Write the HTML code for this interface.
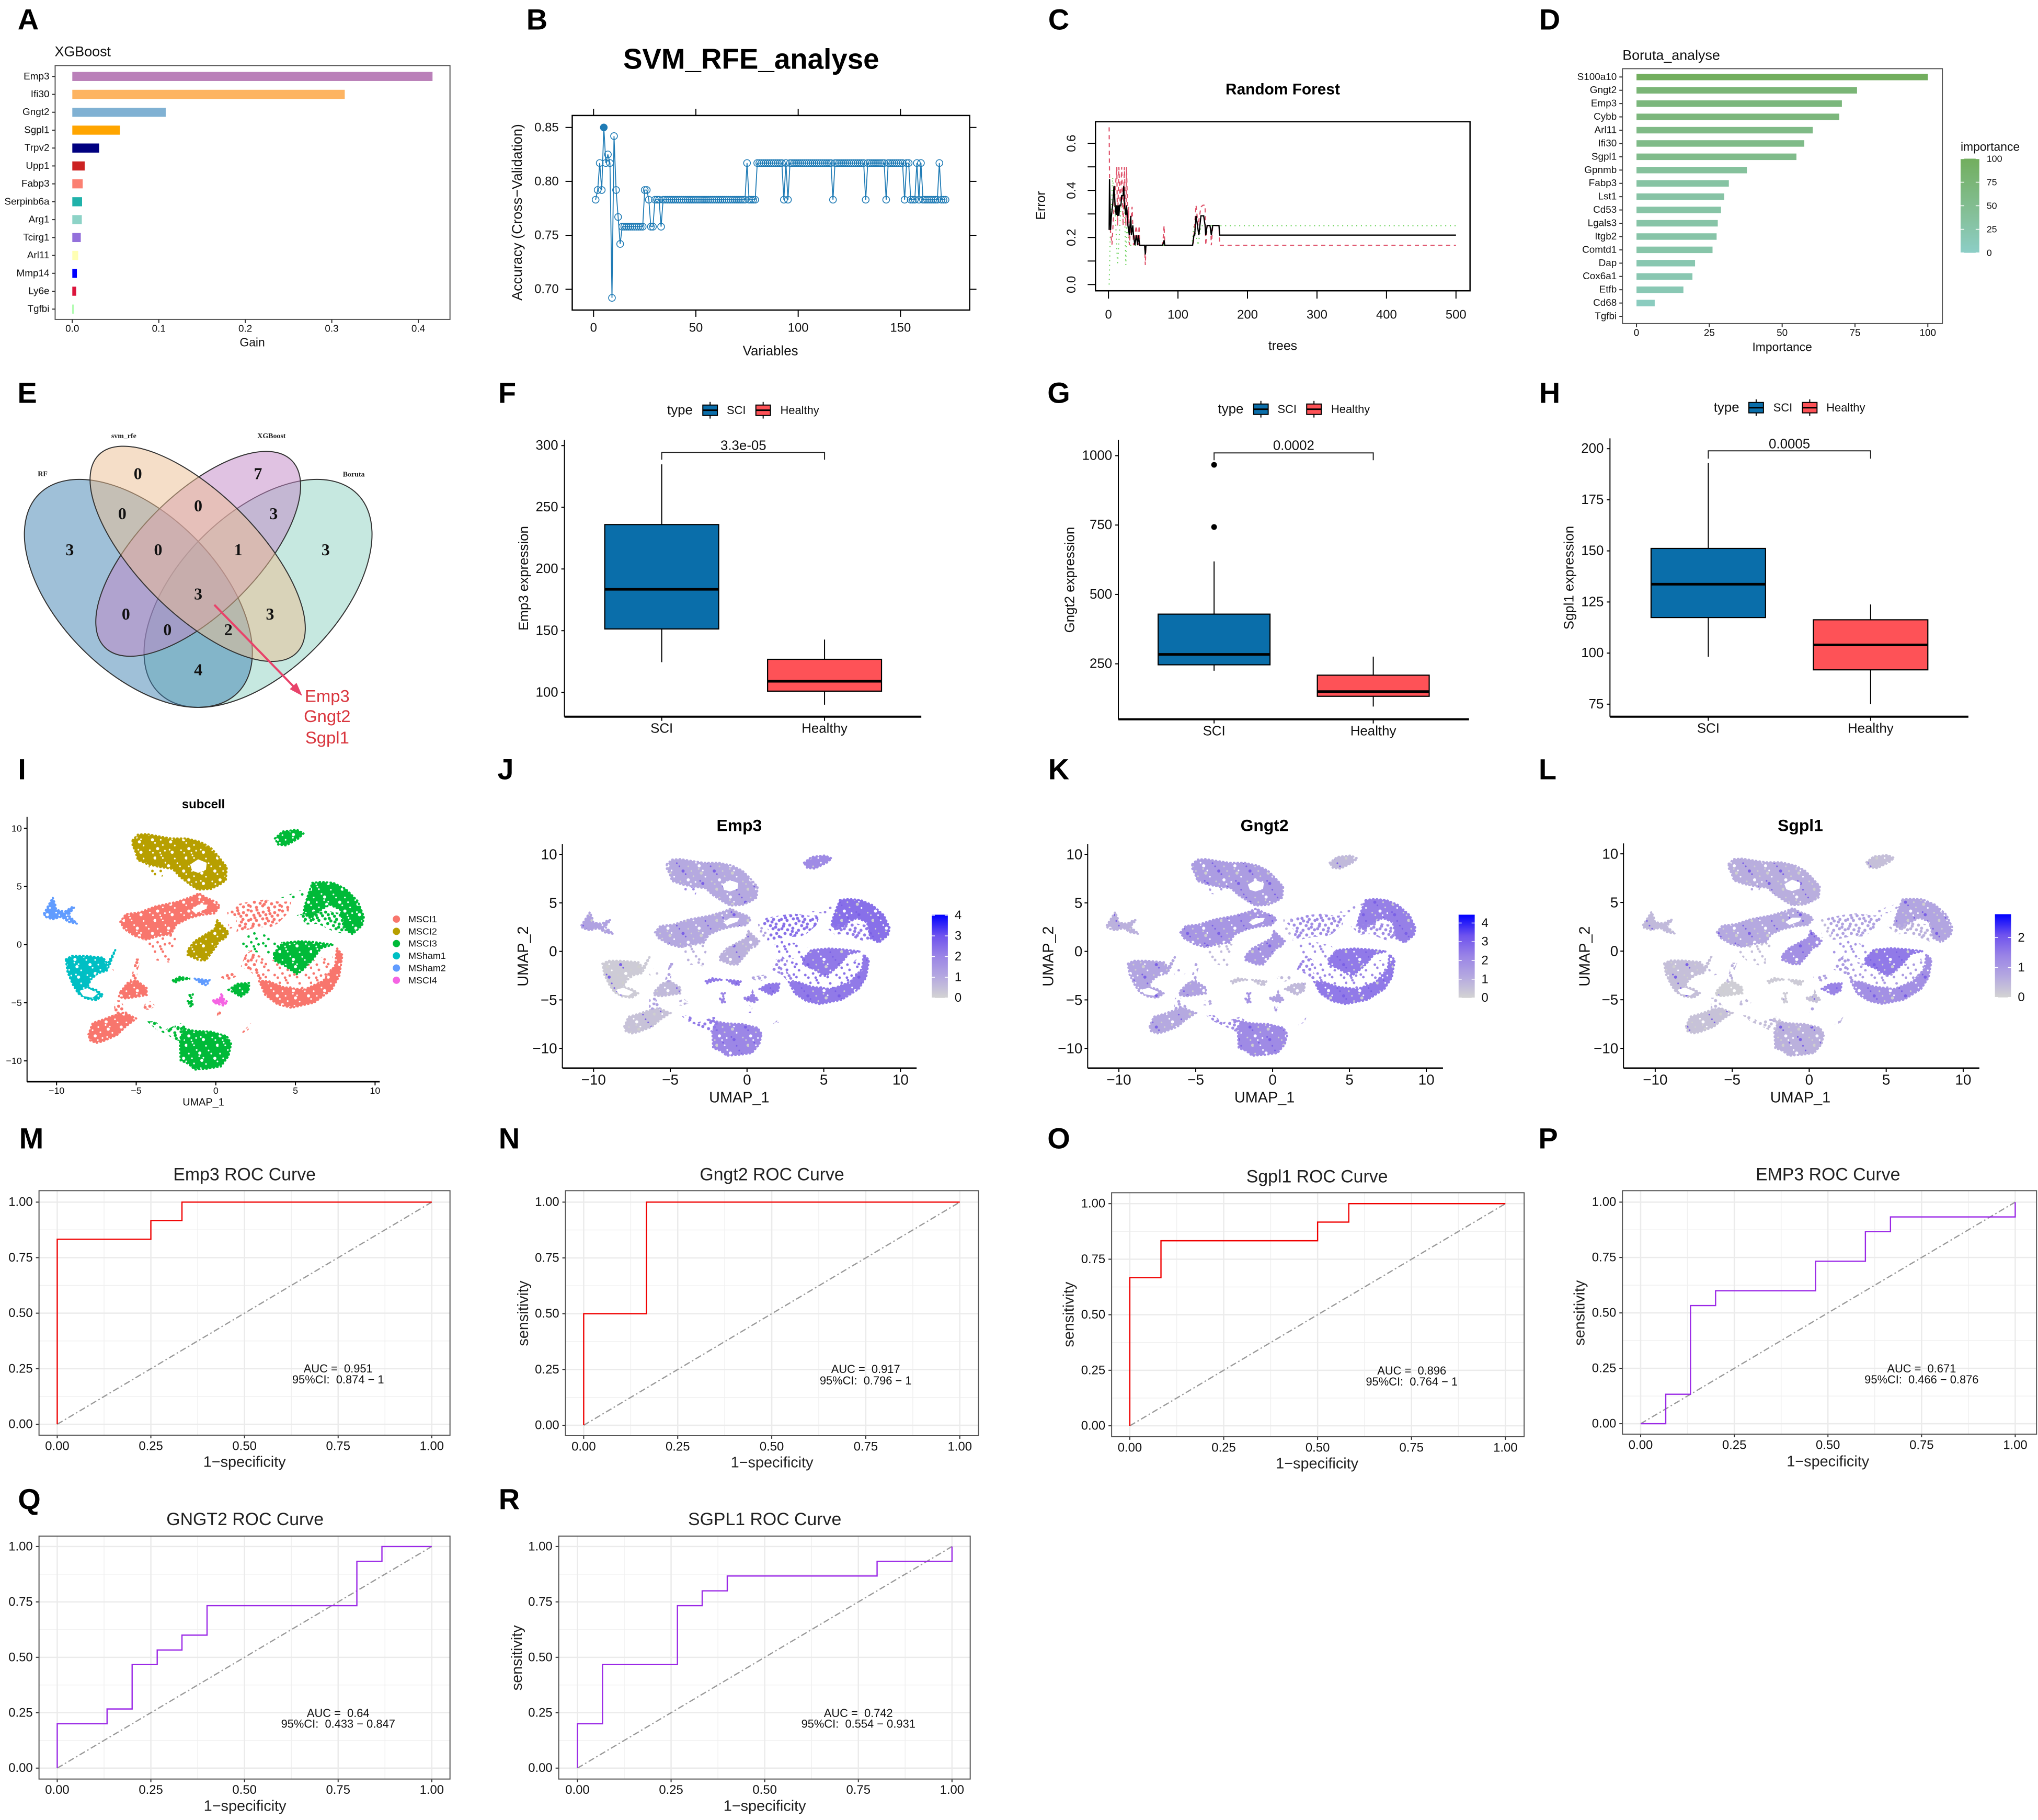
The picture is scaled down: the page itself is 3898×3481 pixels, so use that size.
<!DOCTYPE html>
<html lang="en">
<head>
<meta charset="utf-8">
<title>Machine learning gene selection figure</title>
<style>
html,body{margin:0;padding:0;background:#fff;width:3898px;height:3481px;overflow:hidden}
svg{display:block}
text{font-family:"Liberation Sans",sans-serif;fill:#111;dominant-baseline:central;white-space:pre}
.letter{font-size:56px;font-weight:700;text-anchor:middle;fill:#000}
.mid{text-anchor:middle}
.bold{font-weight:700;fill:#000}
.venn{font-family:"Liberation Serif",serif;font-weight:700;text-anchor:middle;font-size:32px;fill:#111}
.vennlab{font-family:"Liberation Serif",serif;font-weight:700;text-anchor:middle;font-size:14px;fill:#222}
.gene{font-size:33px;text-anchor:middle;fill:#D9363E}
.roct{font-size:34px;text-anchor:middle;fill:#222}
.rocx{font-size:29px;text-anchor:middle;fill:#222}
</style>
</head>
<body>
<svg id="figure" width="3898" height="3481" viewBox="0 0 3898 3481" xmlns="http://www.w3.org/2000/svg">
<defs id="defs"></defs>
<rect x="0" y="0" width="3898" height="3481" fill="#fff"/>

<g>
<text class="letter" x="54" y="37">A</text>
<text class="letter" x="1027" y="37">B</text>
<text class="letter" x="2025" y="37">C</text>
<text class="letter" x="2964" y="37">D</text>
<text class="letter" x="52" y="751">E</text>
<text class="letter" x="970" y="751">F</text>
<text class="letter" x="2025" y="751">G</text>
<text class="letter" x="2964" y="751">H</text>
<text class="letter" x="42" y="1471">I</text>
<text class="letter" x="967" y="1471">J</text>
<text class="letter" x="2025" y="1471">K</text>
<text class="letter" x="2960" y="1471">L</text>
<text class="letter" x="60" y="2177">M</text>
<text class="letter" x="974" y="2177">N</text>
<text class="letter" x="2025" y="2177">O</text>
<text class="letter" x="2961" y="2177">P</text>
<text class="letter" x="56" y="2867">Q</text>
<text class="letter" x="974" y="2867">R</text>
</g>

<g id="panel-a" transform="scale(.995)">
<text x="105" y="99" font-size="27">XGBoost</text>
<text class="mid" x="485" y="658" font-size="23">Gain</text>
</g>

<g id="panel-b" transform="scale(.995)">
<text class="mid bold" x="1444" y="113" font-size="55">SVM_RFE_analyse</text>
<text class="mid" x="1481" y="675" font-size="26">Variables</text>
<text class="mid" x="994" y="408" font-size="27" transform="rotate(-90 994 408)">Accuracy (Cross−Validation)</text>
</g>

<g id="panel-c" transform="translate(9.75 0) scale(.995)">
<text class="mid bold" x="2456" y="172" font-size="30">Random Forest</text>
<text class="mid" x="2456" y="665" font-size="25">trees</text>
<text class="mid" x="1991" y="395" font-size="25" transform="rotate(-90 1991 395)">Error</text>
</g>

<g id="panel-d" transform="translate(9.75 0) scale(.995)">
<text x="3109" y="106" font-size="27">Boruta_analyse</text>
<text class="mid" x="3416" y="667" font-size="23">Importance</text>
<text x="3759" y="282" font-size="23">importance</text>
</g>

<g id="panel-e" transform="translate(0 3.6) scale(.995)">
<ellipse cx="496" cy="1137" rx="270" ry="152" transform="rotate(-45 496 1137)" fill="rgb(141,209,193)" fill-opacity="0.5" stroke="#333" stroke-width="2"/>
<ellipse cx="266" cy="1137" rx="270" ry="152" transform="rotate(45 266 1137)" fill="rgb(63,129,177)" fill-opacity="0.5" stroke="#333" stroke-width="2"/>
<ellipse cx="381" cy="1061" rx="254" ry="114" transform="rotate(-45 381 1061)" fill="rgb(193,133,197)" fill-opacity="0.5" stroke="#333" stroke-width="2"/>
<ellipse cx="380" cy="1061" rx="269" ry="115" transform="rotate(45 380 1061)" fill="rgb(235,189,145)" fill-opacity="0.5" stroke="#333" stroke-width="2"/>
<text class="vennlab" x="82" y="908">RF</text>
<text class="vennlab" x="238" y="835">svm_rfe</text>
<text class="vennlab" x="522" y="835">XGBoost</text>
<text class="vennlab" x="680" y="909">Boruta</text>
<text class="venn" x="134" y="1053">3</text>
<text class="venn" x="265" y="907">0</text>
<text class="venn" x="496" y="907">7</text>
<text class="venn" x="626" y="1053">3</text>
<text class="venn" x="235" y="984">0</text>
<text class="venn" x="381" y="969">0</text>
<text class="venn" x="526" y="984">3</text>
<text class="venn" x="304" y="1053">0</text>
<text class="venn" x="458" y="1053">1</text>
<text class="venn" x="381" y="1138">3</text>
<text class="venn" x="242" y="1177">0</text>
<text class="venn" x="519" y="1177">3</text>
<text class="venn" x="322" y="1207">0</text>
<text class="venn" x="439" y="1207">2</text>
<text class="venn" x="381" y="1284">4</text>
<path d="M412 1159 L576 1328" stroke="#E8436A" stroke-width="4" fill="none"/>
<path d="M581 1334 L557 1321 L570 1309 Z" fill="#E8436A"/>
<text class="gene" x="629" y="1334">Emp3</text>
<text class="gene" x="629" y="1373">Gngt2</text>
<text class="gene" x="629" y="1414">Sgpl1</text>
</g>

<g id="panel-f" transform="translate(0 3.6) scale(.995)">
<text class="mid" x="1007" y="1108" font-size="26" transform="rotate(-90 1007 1108)">Emp3 expression</text>
<text class="mid" x="1429" y="853" font-size="26">3.3e-05</text>
</g>
<g id="panel-g" transform="translate(9.75 3.6) scale(.995)">
<text class="mid" x="2047" y="1111" font-size="26" transform="rotate(-90 2047 1111)">Gngt2 expression</text>
<text class="mid" x="2477" y="853" font-size="26">0.0002</text>
</g>
<g id="panel-h" transform="translate(9.75 3.6) scale(.995)">
<text class="mid" x="3007" y="1107" font-size="26" transform="rotate(-90 3007 1107)">Sgpl1 expression</text>
<text class="mid" x="3430" y="850" font-size="26">0.0005</text>
</g>

<g id="panel-i" transform="translate(0 7.25) scale(.995)">
<text class="mid bold" x="391" y="1539" font-size="24">subcell</text>
<text class="mid" x="391" y="2112" font-size="20">UMAP_1</text>
</g>
<g id="panel-j" transform="translate(0 7.25) scale(.995)">
<text class="mid bold" x="1421" y="1579" font-size="32">Emp3</text>
<text class="mid" x="1421" y="2103" font-size="29">UMAP_1</text>
<text class="mid" x="1006" y="1831" font-size="29" transform="rotate(-90 1006 1831)">UMAP_2</text>
</g>
<g id="panel-k" transform="translate(9.75 7.25) scale(.995)">
<text class="mid bold" x="2421" y="1579" font-size="32">Gngt2</text>
<text class="mid" x="2421" y="2103" font-size="29">UMAP_1</text>
<text class="mid" x="2006" y="1831" font-size="29" transform="rotate(-90 2006 1831)">UMAP_2</text>
</g>
<g id="panel-l" transform="translate(9.75 7.25) scale(.995)">
<text class="mid bold" x="3451" y="1579" font-size="32">Sgpl1</text>
<text class="mid" x="3451" y="2103" font-size="29">UMAP_1</text>
<text class="mid" x="3037" y="1831" font-size="29" transform="rotate(-90 3037 1831)">UMAP_2</text>
</g>

<g id="panel-m" transform="translate(0 10.7) scale(.995)">
<text class="roct" x="470" y="2247">Emp3 ROC Curve</text>
<text class="rocx" x="470" y="2800">1−specificity</text>
</g>
<g id="panel-n" transform="translate(0 10.7) scale(.995)">
<text class="roct" x="1484" y="2247">Gngt2 ROC Curve</text>
<text class="rocx" x="1484" y="2801">1−specificity</text>
<text class="rocx" x="1006" y="2514" transform="rotate(-90 1006 2514)">sensitivity</text>
</g>
<g id="panel-o" transform="translate(9.75 10.7) scale(.995)">
<text class="roct" x="2522" y="2251">Sgpl1 ROC Curve</text>
<text class="rocx" x="2522" y="2803">1−specificity</text>
<text class="rocx" x="2045" y="2516" transform="rotate(-90 2045 2516)">sensitivity</text>
</g>
<g id="panel-p" transform="translate(9.75 10.7) scale(.995)">
<text class="roct" x="3504" y="2247">EMP3 ROC Curve</text>
<text class="rocx" x="3504" y="2799">1−specificity</text>
<text class="rocx" x="3027" y="2513" transform="rotate(-90 3027 2513)">sensitivity</text>
</g>
<g id="panel-q" transform="translate(0 10.7) scale(.995)">
<text class="roct" x="471" y="2910">GNGT2 ROC Curve</text>
<text class="rocx" x="471" y="3461">1−specificity</text>
</g>
<g id="panel-r" transform="translate(0 10.7) scale(.995)">
<text class="roct" x="1470" y="2910">SGPL1 ROC Curve</text>
<text class="rocx" x="1470" y="3461">1−specificity</text>
<text class="rocx" x="994" y="3176" transform="rotate(-90 994 3176)">sensitivity</text>
</g>
</svg>

<script>
/* ---------- Panel A data ---------- */
const xgbGenes = ['Emp3','Ifi30','Gngt2','Sgpl1','Trpv2','Upp1','Fabp3','Serpinb6a','Arg1','Tcirg1','Arl11','Mmp14','Ly6e','Tgfbi'];
const xgbGain = [0.4165,0.315,0.108,0.055,0.031,0.0143,0.012,0.0113,0.011,0.0098,0.0068,0.0053,0.0045,0.0015];
const xgbColors = ['#BA80B9','#FDB462','#80B1D3','#FFA500','#000080','#CC2222','#FB8072','#20B2AA','#8DD3C7','#9370DB','#FFFFB3','#0000FF','#DC143C','#98FB98'];
const xgbTicks = [0,0.1,0.2,0.3,0.4];
const xgbTickLabels = ['0.0','0.1','0.2','0.3','0.4'];

/* ---------- Panel B data ---------- */
const svmAccuracy = [
0.783,0.792,0.817,0.792,0.85,0.817,0.825,0.817,0.692,0.842,0.792,0.767,0.742,
0.758,0.758,0.758,0.758,0.758,0.758,0.758,0.758,0.758,0.758,0.758,
0.792,0.792,0.783,0.758,0.758,0.783,0.783,0.783,0.758,
0.783,0.783,0.783,0.783,0.783,0.783,0.783,0.783,0.783,0.783,
0.783,0.783,0.783,0.783,0.783,0.783,0.783,0.783,0.783,0.783,
0.783,0.783,0.783,0.783,0.783,0.783,0.783,0.783,0.783,0.783,
0.783,0.783,0.783,0.783,0.783,0.783,0.783,0.783,0.783,0.783,0.783,
0.817,0.783,0.783,0.783,0.783,
0.817,0.817,0.817,0.817,0.817,0.817,0.817,0.817,0.817,0.817,0.817,0.817,0.817,
0.783,0.817,0.783,
0.817,0.817,0.817,0.817,0.817,0.817,0.817,0.817,0.817,0.817,0.817,
0.817,0.817,0.817,0.817,0.817,0.817,0.817,0.817,0.817,0.817,
0.783,
0.817,0.817,0.817,0.817,0.817,0.817,0.817,0.817,0.817,0.817,0.817,0.817,0.817,0.817,0.817,
0.783,
0.817,0.817,0.817,0.817,0.817,0.817,0.817,0.817,0.817,
0.783,
0.817,0.817,0.817,0.817,0.817,0.817,0.817,0.817,
0.783,0.817,0.817,0.783,0.783,0.783,0.817,0.783,0.817,
0.783,0.783,0.783,0.783,0.783,0.783,0.783,0.783,
0.817,0.783,0.783,0.783];
const svmBestIndex = 4;
const svmXTicks = [0,50,100,150];
const svmYTicks = [0.70,0.75,0.80,0.85];
const svmYTickLabels = ['0.70','0.75','0.80','0.85'];

/* ---------- Panel C data ---------- */
const rfOobTrees = [1,1.5,3,4,6,8,9.5,11,12,13,14,15,16,18,19,21,22,23,25,26,28,30,32,33,35,36,38,40,42,43,45,52,53,54,78,80,81,121,123,124,126,128,130,133,137,139,140,142,146,148,150,159,160,500];
const rfOobError = [0.232,0.448,0.232,0.285,0.337,0.419,0.337,0.296,0.337,0.292,0.337,0.292,0.337,0.337,0.378,0.378,0.419,0.337,0.296,0.337,0.251,0.21,0.292,0.21,0.251,0.21,0.167,0.21,0.167,0.21,0.167,0.167,0.128,0.167,0.167,0.188,0.167,0.167,0.21,0.21,0.292,0.251,0.21,0.292,0.292,0.251,0.21,0.251,0.251,0.21,0.251,0.251,0.21,0.21];
const rfClassATrees = [1,2,5,8,12,13,15,17,19,21,23,25,26,28,29,30,34,36,40,43,44,45,52,53,54,78,80,81,122,126,129,133,136,139,140,142,147,148,150,159,160,500];
const rfClassAError = [0.668,0.25,0.17,0.33,0.5,0.25,0.5,0.33,0.5,0.25,0.5,0.25,0.5,0.25,0.33,0.167,0.33,0.167,0.25,0.167,0.25,0.167,0.167,0.083,0.167,0.167,0.25,0.167,0.167,0.337,0.25,0.33,0.337,0.337,0.167,0.25,0.25,0.167,0.25,0.25,0.167,0.167];
const rfClassBTrees = [1,2.5,6,10,13,18,23,25,26,30,120,123,129,133,500];
const rfClassBError = [0,0.195,0.455,0.285,0.083,0.33,0.33,0.083,0.25,0.167,0.167,0.25,0.167,0.25,0.25];
const rfXTicks = [0,100,200,300,400,500];
const rfYTicks = [0,0.1,0.2,0.3,0.4,0.5,0.6];
const rfYLabelled = [0,0.2,0.4,0.6];

/* ---------- Panel D data ---------- */
const borutaGenes = ['S100a10','Gngt2','Emp3','Cybb','Arl11','Ifi30','Sgpl1','Gpnmb','Fabp3','Lst1','Cd53','Lgals3','Itgb2','Comtd1','Dap','Cox6a1','Etfb','Cd68','Tgfbi'];
const borutaImportance = [100,75.7,70.5,69.6,60.5,57.6,54.9,37.9,31.7,30.1,29,27.9,27.5,26.1,20.1,19.2,16.1,6.25,0];
const borutaTicks = [0,25,50,75,100];

/* ---------- Panels F, G, H data (low whisker, q1, median, q3, high whisker) ---------- */
const boxGroups = ['SCI','Healthy'];
const emp3SciStats = [124.5,151.4,183.5,236,284.8];
const emp3HealthyStats = [90,101,109,126.8,142.8];
const emp3Ticks = [100,150,200,250,300];
const gngt2SciStats = [225,246.5,284,429,619];
const gngt2HealthyStats = [96,133,150,209,276];
const gngt2SciOutliers = [967,743];
const gngt2Ticks = [250,500,750,1000];
const sgpl1SciStats = [98.2,117.4,133.7,151.2,193];
const sgpl1HealthyStats = [75,91.8,104,116.3,123.8];
const sgpl1Ticks = [75,100,125,150,175,200];

/* ---------- Panels I-L data: regions of the embedding in UMAP units ---------- */
const umapRegionNames = ['top','lower-olive','left-center','left-tail','mid-right','green-right','triangle','mid-scatter','ring-base','ring-left','ring-interior','teal','blue','small-top','left-lower','left-mid','bottom','bottom-tail','green-small','strip-1','stem','small-patch','strip-3','strip-4','patch-teal','patch-mid','arc','blue-small','pink','sliver-1','sliver-2','mid-column','green-under','green-link','top-under'];
const umapPolys = [
[[-5.23,8.98],[-4.89,9.46],[-4.34,9.51],[-3.57,9.31],[-2.81,9.13],[-1.83,9.13],[-0.95,8.83],[-0.3,8.31],[0.14,7.63],[0.69,6.66],[0.63,5.54],[0.25,5.16],[-0.3,4.79],[-1.11,4.72],[-1.61,5.16],[-2.26,5.84],[-2.7,6.51],[-3.46,6.66],[-4.23,6.89],[-4.89,7.26],[-5.05,8.01],[-5.23,8.53]],
[[0.09,2.1],[0.8,1.05],[0.58,0.52],[0.2,0.3],[0.03,-0.15],[-0.3,-0.75],[-0.62,-1.35],[-1.06,-1.35],[-1.77,-0.9],[-1.77,-0.45],[-1.33,0.3],[-0.62,0.9],[-0.08,1.35]],
[[-6,1.95],[-5.65,2.62],[-4.78,2.77],[-3.79,3.29],[-2.48,3.67],[-1.5,4.12],[-1.06,4.42],[-0.62,4.04],[0.03,3.67],[0.25,3.29],[-0.08,2.69],[-0.95,2.54],[-1.72,2.25],[-2.48,1.72],[-2.81,0.9],[-3.57,0.75],[-4.34,0.42],[-5.1,0.75],[-5.76,1.35]],
[[-4.78,0.37],[-2.81,0.9],[-2.48,0.6],[-2.81,-0.75],[-2.81,-1.57],[-3.79,-1.35],[-4.34,-0.6]],
[[0.87,2.99],[1.24,3.44],[2.23,3.74],[3.1,3.89],[4.09,3.67],[4.75,3.74],[4.53,2.69],[3.87,1.8],[3.43,1.5],[2.67,1.5],[1.79,1.2],[1.29,1.12],[1.46,2.1]],
[[6.06,5.31],[6.61,5.39],[7.38,5.31],[8.15,4.79],[8.91,3.74],[9.3,2.4],[9.19,1.65],[8.59,0.9],[8.04,1.35],[7.82,2.99],[7.16,3.44],[6.61,2.99],[5.95,2.25],[5.51,2.69],[5.57,3.29],[5.84,4.49]],
[[3.65,-0.75],[4.2,0.15],[5.3,0.3],[6.17,0.22],[7.38,0],[6.61,-0.3],[6.06,-1.35],[5.41,-2.25],[5.08,-2.54],[4.31,-1.8],[3.65,-1.35]],
[[1.46,0.3],[2.23,1.2],[3.76,0.6],[4.2,0.15],[3.65,-0.9],[2.99,-0.75],[2.23,-0.6],[1.57,-0.3]],
[[2.72,-3.14],[3.1,-4.34],[3.87,-5.13],[4.75,-5.43],[6.17,-4.99],[7.27,-3.89],[7.76,-2.69],[7.95,-0.9],[7.6,-0.3],[7.49,-1.8],[6.72,-3.14],[5.52,-3.89],[4.2,-3.64],[3.32,-3.14]],
[[1.84,-0.9],[2.23,-0.45],[2.66,-0.9],[2.55,-1.95],[3.21,-3.29],[2.72,-3.14],[2.23,-2.4],[1.57,-1.87]],
[[2.66,-0.9],[3.65,-1.35],[5.08,-2.54],[6.17,-1.35],[7.27,-0.75],[7.49,-1.8],[6.72,-3.14],[5.52,-3.89],[4.2,-3.64],[3.21,-3.29],[2.55,-1.95]],
[[-9.42,-1.27],[-9.04,-0.97],[-8.16,-0.97],[-7.07,-1.12],[-6.74,-1.8],[-6.74,-1.5],[-6.31,-0.45],[-6.64,-1.65],[-6.85,-2.25],[-7.4,-2.47],[-7.84,-2.99],[-8.06,-3.66],[-7.51,-3.89],[-7.07,-4.34],[-7.51,-4.79],[-8.16,-4.64],[-8.66,-4.19],[-8.98,-3.44],[-9.31,-2.38]],
[[-10.79,2.69],[-10.24,4.04],[-10.08,3.44],[-10.02,2.99],[-9.48,2.84],[-9.04,3.22],[-8.88,3.22],[-9.26,2.54],[-8.71,1.8],[-9.26,1.95],[-9.69,2.4],[-10.24,2.17],[-10.73,2.4]],
[[3.71,9.13],[4.2,9.73],[5.08,9.88],[5.52,9.58],[5.19,9.13],[4.42,8.53],[3.92,8.6]],
[[-8,-7.72],[-7.73,-6.74],[-7.07,-6.44],[-6.52,-6.14],[-5.76,-5.84],[-4.99,-6.36],[-5.65,-7.04],[-6.2,-7.78],[-7.07,-8.31],[-7.51,-8.46],[-7.91,-8.23]],
[[-5.98,-4.04],[-5.54,-3.29],[-4.99,-3.07],[-4.34,-3.74],[-4.34,-4.34],[-4.99,-4.49],[-5.65,-4.64],[-6.09,-4.49]],
[[-2.26,-8.38],[-2.04,-7.34],[-2.59,-7.04],[-1.39,-7.41],[-0.3,-7.49],[0.69,-7.87],[0.96,-8.53],[0.8,-9.58],[0.31,-10.48],[-0.51,-10.66],[-1.33,-10.75],[-1.72,-10.25],[-2.21,-9.96]],
[[-4.34,-6.59],[-3.79,-6.59],[-3.25,-7.34],[-2.15,-6.74],[-1.83,-7.04],[-2.04,-8.38],[-2.48,-8.23],[-3.14,-7.71],[-3.79,-7.26]],
[[0.8,-3.89],[1.34,-3.37],[2.11,-3.29],[2.05,-4.04],[1.56,-4.49],[1.13,-4.12]],
[[-5.05,-1.2],[-4.67,-1.2],[-4.89,-2.1],[-4.99,-3.14],[-5.43,-3.29],[-5.21,-2.25]],
[[-6.36,-4.79],[-5.98,-4.79],[-5.54,-5.84],[-6.41,-6.06]],
[[-4.45,-5.09],[-4.12,-4.87],[-3.74,-5.31],[-4.23,-5.61],[-4.61,-5.54]],
[[0.14,-5.54],[0.36,-5.76],[0.25,-6.36],[0.03,-6.29]],
[[1.67,-7.49],[2.22,-6.74],[2.05,-7.34],[1.67,-7.63]],
[[-6.63,-1.8],[-6.2,-1.65],[-5.65,-2.32],[-6.31,-2.54]],
[[0.25,-2.62],[1.13,-2.4],[1.34,-2.69],[0.8,-3.14],[0.31,-2.84]],
[[-2.7,-3.07],[-2.26,-2.77],[-1.61,-2.92],[-2.26,-3.07],[-2.59,-3.29]],
[[-1.33,-2.92],[-0.4,-3.07],[-0.57,-3.52],[-0.9,-3.37]],
[[-0.16,-4.79],[0.25,-4.64],[0.36,-4.19],[0.47,-4.64],[0.74,-4.94],[0.47,-5.24],[-0.13,-5.01]],
[[-1.77,-4.87],[-1.5,-4.87],[-1.44,-5.24],[-1.61,-5.31]],
[[-1.66,-4.34],[-1.44,-4.27],[-1.55,-4.64]],
[[0.69,3.29],[1.24,3.29],[1.34,1.5],[0.8,1.35]],
[[5.08,2.54],[6.61,2.99],[7.93,2.69],[8.04,0.9],[7.27,1.2],[6.39,1.8],[5.73,1.72]],
[[4.09,4.04],[5.95,5.01],[5.84,4.49],[5.08,3.89]],
[[-4.23,6.74],[-3.14,6.59],[-3.36,5.84],[-4.01,5.91]]
];
const umapRegionDensity = ['dense','dense','dense','sparse','medium','dense','dense','sparse','dense','medium','sparse','dense','dense','dense','dense','dense','dense','medium','dense','medium','medium','medium','medium','medium','sparse','medium','dense','dense','dense','dense','dense','sparse','medium','sparse','sparse'];
const subcellClusterOfRegion = [1,1,0,0,0,2,2,2,0,0,0,3,4,2,0,0,2,2,2,0,0,0,0,0,0,0,2,4,5,2,2,0,2,2,1];
const umapHoles = [
[[-1.61,6.89],[-1.11,7.34],[-0.57,7.04],[-0.62,6.44],[-1.11,6.17],[-1.49,6.36]],
[[-1.55,2.99],[-1.11,3.44],[-0.51,3.44],[-0.62,3.07],[-1.28,2.69]],
[[-8.55,-3.97],[-8.06,-3.74],[-7.4,-4.19],[-7.73,-4.57],[-8.33,-4.42]]
];
const subcellNames = ['MSCI1','MSCI2','MSCI3','MSham1','MSham2','MSCI4'];
const subcellColors = ['#F8766D','#B79F00','#00BA38','#00BFC4','#619CFF','#F564E3'];
const emp3Levels = [0.25,0.2,0.25,0.2,0.6,0.6,0.55,0.6,0.55,0.5,0.6,0.05,0.3,0.45,0.1,0.15,0.48,0.55,0.55,0.3,0.3,0.2,0.5,0.35,0.1,0.3,0.55,0.55,0.5,0.5,0.5,0.3,0.55,0.5,0.45];
const gngt2Levels = [0.33,0.38,0.38,0.15,0.45,0.52,0.55,0.45,0.55,0.5,0.5,0.28,0.2,0.15,0.25,0.3,0.45,0.45,0.15,0.3,0.3,0.25,0.35,0.4,0.3,0.15,0.1,0.1,0.3,0.4,0.4,0.2,0.45,0.4,0.35];
const sgpl1Levels = [0.22,0.42,0.25,0.12,0.3,0.28,0.55,0.4,0.42,0.35,0.35,0.12,0.15,0.12,0.1,0.03,0.2,0.12,0.5,0.2,0.15,0.15,0.3,0.2,0.2,0.3,0.05,0.05,0.1,0.05,0.05,0.15,0.2,0.3,0.25];
const umapTicks = [-10,-5,0,5,10];
const emp3BarTicks = [0,1,2,3,4];
const gngt2BarTicks = [0,1,2,3,4];
const sgpl1BarTicks = [0,1,2];

/* ---------- Panels M-R data ---------- */
const rocTicks = [0,0.25,0.5,0.75,1];
const rocTickLabels = ['0.00','0.25','0.50','0.75','1.00'];
const rocMinor = [0.125,0.375,0.625,0.875];
const rocEmp3X = [0,0,0.25,0.25,0.333,0.333,1];
const rocEmp3Y = [0,0.833,0.833,0.917,0.917,1,1];
const rocGngt2X = [0,0,0.167,0.167,1];
const rocGngt2Y = [0,0.5,0.5,1,1];
const rocSgpl1X = [0,0,0.083,0.083,0.5,0.5,0.583,0.583,1];
const rocSgpl1Y = [0,0.667,0.667,0.833,0.833,0.917,0.917,1,1];
const rocEMP3X = [0,0.067,0.067,0.133,0.133,0.2,0.2,0.467,0.467,0.6,0.6,0.667,0.667,1,1];
const rocEMP3Y = [0,0,0.133,0.133,0.533,0.533,0.6,0.6,0.733,0.733,0.867,0.867,0.933,0.933,1];
const rocGNGT2X = [0,0,0.133,0.133,0.2,0.2,0.267,0.267,0.333,0.333,0.4,0.4,0.8,0.8,0.867,0.867,1];
const rocGNGT2Y = [0,0.2,0.2,0.267,0.267,0.467,0.467,0.533,0.533,0.6,0.6,0.733,0.733,0.933,0.933,1,1];
const rocSGPL1X = [0,0,0.067,0.067,0.267,0.267,0.333,0.333,0.4,0.4,0.8,0.8,1,1];
const rocSGPL1Y = [0,0.2,0.2,0.467,0.467,0.733,0.733,0.8,0.8,0.867,0.867,0.933,0.933,1];
const aucLinesEmp3 = ['AUC =  0.951','95%CI:  0.874 − 1'];
const aucLinesGngt2 = ['AUC =  0.917','95%CI:  0.796 − 1'];
const aucLinesSgpl1 = ['AUC =  0.896','95%CI:  0.764 − 1'];
const aucLinesEMP3 = ['AUC =  0.671','95%CI:  0.466 − 0.876'];
const aucLinesGNGT2 = ['AUC =  0.64','95%CI:  0.433 − 0.847'];
const aucLinesSGPL1 = ['AUC =  0.742','95%CI:  0.554 − 0.931'];

/* ---------- helpers ---------- */
const NS = 'http://www.w3.org/2000/svg';
function mk(parent, tag, attrs, name) {
  const el = document.createElementNS(NS, tag);
  for (const k in attrs) el.setAttribute(k, attrs[k]);
  
  
  parent.appendChild(el);
  return el;
}
function tx(parent, x, y, str, size, anchor, name, rot) {
  const attrs = {x: x, y: y, 'font-size': size, 'text-anchor': anchor};
  if (rot) attrs.transform = 'rotate(' + rot + ' ' + x + ' ' + y + ')';
  const el = mk(parent, 'text', attrs, name);
  el.textContent = str;
  return el;
}
function line(parent, x1, y1, x2, y2, stroke, w, name, extra) {
  const attrs = {x1: x1, y1: y1, x2: x2, y2: y2, stroke: stroke, 'stroke-width': w};
  if (extra) for (const k in extra) attrs[k] = extra[k];
  return mk(parent, 'line', attrs, name);
}
function rectOf(parent, x, y, w, h, fill, name, extra) {
  const attrs = {x: x, y: y, width: w, height: h, fill: fill};
  if (extra) for (const k in extra) attrs[k] = extra[k];
  return mk(parent, 'rect', attrs, name);
}
function scale(d0, d1, r0, r1) { return v => r0 + (v - d0) * (r1 - r0) / (d1 - d0); }
function polyPoints(xs, ys, sx, sy) { return xs.map((x, i) => sx(x).toFixed(1) + ',' + sy(ys[i]).toFixed(1)).join(' '); }
function minus(v) { return String(v).replace('-', '−'); }
const defs = document.getElementById('defs');

/* ---------- Panel A ---------- */
(function () {
  const g = document.getElementById('panel-a');
  const L = 106, R = 865, T = 126, B = 614;
  const x = scale(0, 0.4, 139, 804);
  const y = i => 147 + 34.4 * i;
  rectOf(g, L, T, R - L, B - T, 'none', 'xgboost-plot-frame', {stroke: '#555', 'stroke-width': 2});
  xgbGenes.forEach((gene, i) => {
    rectOf(g, x(0), y(i) - 8.75, x(xgbGain[i]) - x(0), 17.5, xgbColors[i], 'bar-' + gene);
    line(g, L - 6, y(i), L, y(i), '#333', 2, 'y-tick');
    tx(g, 95, y(i), gene, 19, 'end', 'y-tick-label');
  });
  xgbTicks.forEach((t, i) => {
    line(g, x(t), B, x(t), B + 7, '#333', 2, 'x-tick');
    tx(g, x(t), 632, xgbTickLabels[i], 19, 'middle', 'x-tick-label');
  });
})();

/* ---------- Panel B ---------- */
(function () {
  const g = document.getElementById('panel-b');
  const L = 1100, R = 1864, T = 222, B = 596;
  const x = scale(0, 150, 1141, 1731);
  const y = scale(0.70, 0.85, 556, 245);
  const blue = '#1F7BB5';
  rectOf(g, L, T, R - L, B - T, 'none', 'svm-rfe-plot-frame', {stroke: '#000', 'stroke-width': 2.5});
  svmXTicks.forEach(t => {
    line(g, x(t), T - 13, x(t), T, '#000', 2, 'top-tick');
    line(g, x(t), B, x(t), B + 13, '#000', 2, 'x-tick');
    tx(g, x(t), 630, String(t), 24, 'middle', 'x-tick-label');
  });
  svmYTicks.forEach((t, i) => {
    line(g, L - 13, y(t), L, y(t), '#000', 2, 'y-tick');
    line(g, R, y(t), R + 13, y(t), '#000', 2, 'right-tick');
    tx(g, 1074, y(t), svmYTickLabels[i], 24, 'end', 'y-tick-label');
  });
  const idx = svmAccuracy.map((_, i) => i + 1);
  mk(g, 'polyline', {points: polyPoints(idx, svmAccuracy, x, y), fill: 'none', stroke: blue, 'stroke-width': 1.8}, 'accuracy-line');
  svmAccuracy.forEach((v, i) => {
    mk(g, 'circle', {cx: x(i + 1), cy: y(v), r: 6.5, fill: i === svmBestIndex ? blue : 'none', stroke: blue, 'stroke-width': 1.6}, 'accuracy-point');
  });
})();

/* ---------- Panel C ---------- */
(function () {
  const g = document.getElementById('panel-c');
  const L = 2096, R = 2816, T = 234, B = 559;
  const x = scale(0, 500, 2121, 2789);
  const y = scale(0, 0.6, 547, 275.5);
  rectOf(g, L, T, R - L, B - T, 'none', 'random-forest-plot-frame', {stroke: '#000', 'stroke-width': 2.5});
  rfXTicks.forEach(t => {
    line(g, x(t), B, x(t), B + 15, '#000', 2, 'x-tick');
    tx(g, x(t), 605, String(t), 24, 'middle', 'x-tick-label');
  });
  rfYTicks.forEach(t => line(g, L - 15, y(t), L, y(t), '#000', 2, 'y-tick'));
  rfYLabelled.forEach(t => tx(g, 2050, y(t), t.toFixed(1), 24, 'middle', 'y-tick-label', -90));
  mk(g, 'polyline', {points: polyPoints(rfClassBTrees, rfClassBError, x, y), fill: 'none', stroke: '#61D04F', 'stroke-width': 2, 'stroke-dasharray': '2 7'}, 'class-b-error-line');
  mk(g, 'polyline', {points: polyPoints(rfClassATrees, rfClassAError, x, y), fill: 'none', stroke: '#DF536B', 'stroke-width': 2.2, 'stroke-dasharray': '8 7'}, 'class-a-error-line');
  mk(g, 'polyline', {points: polyPoints(rfOobTrees, rfOobError, x, y), fill: 'none', stroke: '#000', 'stroke-width': 2.4}, 'oob-error-line');
})();

/* ---------- Panel D ---------- */
(function () {
  const g = document.getElementById('panel-d');
  const L = 3109, R = 3724, T = 132, B = 622;
  const x = scale(0, 100, 3136, 3696);
  const y = i => 148 + 25.56 * i;
  const lo = [140, 206, 198], mid = [133, 192, 154], hi = [114, 174, 94];
  function col(v) {
    const t = v / 100;
    const a = t < 0.4 ? lo : mid, b = t < 0.4 ? mid : hi, f = t < 0.4 ? t / 0.4 : (t - 0.4) / 0.6;
    return 'rgb(' + a.map((c, i) => Math.round(c + (b[i] - c) * f)).join(',') + ')';
  }
  rectOf(g, L, T, R - L, B - T, 'none', 'boruta-plot-frame', {stroke: '#555', 'stroke-width': 2});
  borutaGenes.forEach((gene, i) => {
    rectOf(g, x(0), y(i) - 6.25, x(borutaImportance[i]) - x(0), 12.5, col(borutaImportance[i]), 'bar-' + gene);
    line(g, L - 6, y(i), L, y(i), '#333', 2, 'y-tick');
    tx(g, 3098, y(i), gene, 19, 'end', 'y-tick-label');
  });
  borutaTicks.forEach(t => {
    line(g, x(t), B, x(t), B + 7, '#333', 2, 'x-tick');
    tx(g, x(t), 640, String(t), 19, 'middle', 'x-tick-label');
  });
  const grad = mk(defs, 'linearGradient', {id: 'boruta-grad', x1: 0, y1: 1, x2: 0, y2: 0}, 'boruta-gradient');
  [0, 40, 100].forEach(v => mk(grad, 'stop', {offset: v + '%', 'stop-color': col(v)}, 'gradient-stop'));
  rectOf(g, 3759, 305, 36, 181, 'url(#boruta-grad)', 'boruta-colorbar');
  const ly = scale(0, 100, 486, 305);
  borutaTicks.forEach(t => {
    line(g, 3759, ly(t), 3766, ly(t), '#fff', 1.5, 'colorbar-tick');
    line(g, 3788, ly(t), 3795, ly(t), '#fff', 1.5, 'colorbar-tick');
    tx(g, 3809, ly(t), String(t), 18, 'start', 'colorbar-label');
  });
})();

/* ---------- Panels F, G, H ---------- */
function boxPanel(id, c) {
  const g = document.getElementById(id);
  const y = scale(c.d0, c.d1, c.p0, c.p1);
  const fills = ['#0A6EAA', '#FE5257'];
  line(g, c.left, c.top, c.left, c.bottom, '#000', 2, 'y-axis-line');
  line(g, c.left, c.bottom, c.right, c.bottom, '#000', 4, 'x-axis-line');
  c.ticks.forEach(t => {
    line(g, c.left - 6, y(t), c.left, y(t), '#000', 2, 'y-tick');
    tx(g, c.left - 12, y(t), String(t), 26, 'end', 'y-tick-label');
  });
  boxGroups.forEach((name, i) => {
    const x = c.xs[i], s = c.stats[i], w = c.boxW;
    line(g, x, c.bottom, x, c.bottom + 8, '#000', 2, 'x-tick');
    tx(g, x, c.labelY, name, 26, 'middle', 'x-tick-label');
    line(g, x, y(s[0]), x, y(s[4]), '#000', 2, 'whisker-' + name);
    rectOf(g, x - w / 2, y(s[3]), w, y(s[1]) - y(s[3]), fills[i], 'box-' + name, {stroke: '#000', 'stroke-width': 2.2});
    line(g, x - w / 2, y(s[2]), x + w / 2, y(s[2]), '#000', 5, 'median-' + name);
  });
  c.outliers.forEach(v => mk(g, 'circle', {cx: c.xs[0], cy: y(v), r: 5.5, fill: '#000'}, 'outlier-point'));
  mk(g, 'path', {d: 'M' + c.xs[0] + ' ' + c.brEnd + 'V' + c.brY + 'H' + c.xs[1] + 'V' + c.brEnd, fill: 'none', stroke: '#222', 'stroke-width': 2}, 'significance-bracket');
  tx(g, c.lx[0], c.ly, 'type', 26, 'middle', 'legend-title');
  boxGroups.forEach((name, i) => {
    const kx = c.lx[i + 1];
    line(g, kx, c.ly - 16, kx, c.ly + 16, '#000', 2, 'legend-key-whisker');
    rectOf(g, kx - 14, c.ly - 10, 28, 20, fills[i], 'legend-key-box', {stroke: '#000', 'stroke-width': 2});
    line(g, kx - 14, c.ly, kx + 14, c.ly, '#000', 3, 'legend-key-median');
    tx(g, c.lx[i + 3], c.ly, name, 22, 'start', 'legend-label');
  });
}
boxPanel('panel-f', {d0: 100, d1: 300, p0: 1327.3, p1: 852.9, left: 1085, right: 1771, top: 842, bottom: 1374, xs: [1272, 1585], boxW: 219, stats: [emp3SciStats, emp3HealthyStats], outliers: [], ticks: emp3Ticks, brY: 866, brEnd: 880, labelY: 1397, ly: 785, lx: [1307, 1365, 1467, 1397, 1500]});
boxPanel('panel-g', {d0: 250, d1: 1000, p0: 1272.4, p1: 872.3, left: 2140, right: 2814, top: 842, bottom: 1379, xs: [2324, 2630], boxW: 215, stats: [gngt2SciStats, gngt2HealthyStats], outliers: gngt2SciOutliers, ticks: gngt2Ticks, brY: 867, brEnd: 881, labelY: 1402, ly: 783, lx: [2356, 2414, 2516, 2446, 2549]});
boxPanel('panel-h', {d0: 75, d1: 200, p0: 1350, p1: 858.9, left: 3085, right: 3774, top: 839, bottom: 1374, xs: [3274, 3586], boxW: 220, stats: [sgpl1SciStats, sgpl1HealthyStats], outliers: [], ticks: sgpl1Ticks, brY: 863, brEnd: 878, labelY: 1397, ly: 780, lx: [3309, 3366, 3469, 3399, 3501]});

/* ---------- Panels I-L ---------- */
const patternMotif = [[3,4],[14,2],[26,6],[37,3],[48,7],[57,2],[8,12],[20,13],[31,11],[43,14],[54,12],[2,20],[13,22],[25,19],[36,23],[47,20],[58,22],[7,29],[18,31],[30,28],[41,32],[52,29],[3,38],[14,40],[24,37],[35,41],[46,38],[57,40],[9,47],[20,49],[31,46],[42,50],[53,47],[1,55],[13,57],[25,54],[36,58],[48,56],[58,53],[6,33],[28,51],[44,25],[17,8],[51,35],[10,17],[39,9],[23,43],[33,18]];
const patternCache = {};
let patternCount = 0;
function stipple(color, density, feature) {
  const key = color + density;
  if (patternCache[key]) return patternCache[key];
  const id = 'stipple-' + (patternCount++);
  const p = mk(defs, 'pattern', {id: id, width: 60, height: 60, patternUnits: 'userSpaceOnUse'}, 'stipple-pattern');
  if (density === 'dense') {
    rectOf(p, 0, 0, 60, 60, color, 'stipple-base');
    patternMotif.forEach((m, i) => {
      if (i % 2) return;
      let fill = '#fff';
      if (feature && i % 3 === 1) fill = '#CFCFCF';
      if (feature && i % 3 === 2) fill = '#7A60E6';
      mk(p, 'circle', {cx: m[0], cy: m[1], r: i % 8 === 0 ? 3 : 1.6, fill: fill}, 'stipple-gap');
    });
  } else if (density === 'medium') {
    patternMotif.forEach(m => mk(p, 'circle', {cx: m[0], cy: m[1], r: 3, fill: color}, 'stipple-cell'));
  } else {
    patternMotif.filter((m, i) => i % 2 === 0).forEach(m => mk(p, 'circle', {cx: m[0], cy: m[1], r: 2.5, fill: color}, 'stipple-cell'));
  }
  patternCache[key] = 'url(#' + id + ')';
  return patternCache[key];
}
const levelStops = [[211,211,211],[181,169,224],[154,132,230],[110,82,238],[0,0,255]];
function levelColor(v) {
  const t = Math.max(0, Math.min(0.9999, v)) * (levelStops.length - 1);
  const i = Math.floor(t), f = t - i;
  return 'rgb(' + levelStops[i].map((c, k) => Math.round(c + (levelStops[i + 1][k] - c) * f)).join(',') + ')';
}
function umapPanel(id, c) {
  const g = document.getElementById(id);
  const x = scale(-10, 10, c.xn, c.xp);
  const y = scale(-10, 10, c.yn, c.yp);
  umapPolys.forEach((poly, i) => {
    const color = c.levels ? levelColor(c.levels[i]) : subcellColors[subcellClusterOfRegion[i]];
    const pts = poly.map(p => x(p[0]).toFixed(1) + ',' + y(p[1]).toFixed(1)).join(' ');
    const attrs = {points: pts, fill: stipple(color, umapRegionDensity[i], !!c.levels)};
    if (umapRegionDensity[i] === 'dense') {
      attrs.stroke = color;
      attrs['stroke-width'] = 4;
      attrs['stroke-dasharray'] = '1 6';
      attrs['stroke-linecap'] = 'round';
    }
    mk(g, 'polygon', attrs, 'cells-' + umapRegionNames[i]);
  });
  umapHoles.forEach(h => {
    mk(g, 'polygon', {points: h.map(p => x(p[0]).toFixed(1) + ',' + y(p[1]).toFixed(1)).join(' '), fill: '#fff'}, 'empty-gap');
  });
  line(g, c.left, c.top, c.left, c.bottom, '#000', 2, 'y-axis-line');
  line(g, c.left, c.bottom, c.right, c.bottom, '#000', 3, 'x-axis-line');
  umapTicks.forEach(t => {
    line(g, x(t), c.bottom, x(t), c.bottom + 7, '#000', 2, 'x-tick');
    tx(g, x(t), c.xLabelY, minus(t), c.font, 'middle', 'x-tick-label');
    line(g, c.left - 6, y(t), c.left, y(t), '#000', 2, 'y-tick');
    tx(g, c.left - 10, y(t), minus(t), c.font, 'end', 'y-tick-label');
  });
  if (c.bar) {
    const b = c.bar;
    const gid = id + '-grad';
    const grad = mk(defs, 'linearGradient', {id: gid, x1: 0, y1: 1, x2: 0, y2: 0}, 'feature-gradient');
    levelStops.forEach((s, i) => mk(grad, 'stop', {offset: (i * 25) + '%', 'stop-color': 'rgb(' + s.join(',') + ')'}, 'gradient-stop'));
    rectOf(g, b.x, b.top, 31, b.bot - b.top, 'url(#' + gid + ')', 'feature-colorbar');
    const by = scale(b.ticks[0], b.ticks[b.ticks.length - 1], b.t0, b.t1);
    b.ticks.forEach(t => {
      line(g, b.x, by(t), b.x + 6, by(t), '#fff', 1.5, 'colorbar-tick');
      line(g, b.x + 25, by(t), b.x + 31, by(t), '#fff', 1.5, 'colorbar-tick');
      tx(g, b.x + 44, by(t), String(t), 24, 'start', 'colorbar-label');
    });
  }
}
umapPanel('panel-i', {xn: 108.75, xp: 721, yn: 2032, yp: 1585, left: 52, right: 730, top: 1563, bottom: 2072, xLabelY: 2089, font: 18});
umapPanel('panel-j', {xn: 1141, xp: 1731, yn: 2008, yp: 1635, left: 1081, right: 1762, top: 1615, bottom: 2046, xLabelY: 2068, font: 28, levels: emp3Levels, bar: {x: 1791, top: 1751, bot: 1911, ticks: emp3BarTicks, t0: 1911, t1: 1752}});
umapPanel('panel-k', {xn: 2141, xp: 2732, yn: 2008, yp: 1635, left: 2081, right: 2764, top: 1615, bottom: 2046, xLabelY: 2068, font: 28, levels: gngt2Levels, bar: {x: 2794, top: 1751, bot: 1911, ticks: gngt2BarTicks, t0: 1911, t1: 1767}});
umapPanel('panel-l', {xn: 3172, xp: 3764, yn: 2008, yp: 1634, left: 3111, right: 3795, top: 1614, bottom: 2046, xLabelY: 2068, font: 28, levels: sgpl1Levels, bar: {x: 3825, top: 1750, bot: 1910, ticks: sgpl1BarTicks, t0: 1910, t1: 1795}});
const legendGroup = document.getElementById('panel-i');
subcellNames.forEach((name, i) => {
  const ly = 1759.5 + i * 23.5;
  mk(legendGroup, 'circle', {cx: 762, cy: ly, r: 7, fill: subcellColors[i]}, 'legend-dot-' + name);
  tx(legendGroup, 785, ly, name, 18, 'start', 'legend-label-' + name);
});

/* ---------- Panels M-R ---------- */
function rocPanel(id, c) {
  const g = document.getElementById(id);
  const x = scale(0, 1, c.x0, c.x1);
  const y = scale(0, 1, c.y0, c.y1);
  rocMinor.forEach(t => {
    line(g, x(t), c.T, x(t), c.B, '#F0F0F0', 1.5, 'minor-grid-x');
    line(g, c.L, y(t), c.R, y(t), '#F0F0F0', 1.5, 'minor-grid-y');
  });
  rocTicks.forEach((t, i) => {
    line(g, x(t), c.T, x(t), c.B, '#EBEBEB', 2.5, 'major-grid-x');
    line(g, c.L, y(t), c.R, y(t), '#EBEBEB', 2.5, 'major-grid-y');
    line(g, x(t), c.B, x(t), c.B + 6, '#333', 2, 'x-tick');
    line(g, c.L - 6, y(t), c.L, y(t), '#333', 2, 'y-tick');
    tx(g, x(t), c.B + 21, rocTickLabels[i], 24, 'middle', 'x-tick-label');
    tx(g, c.L - 12, y(t), rocTickLabels[i], 24, 'end', 'y-tick-label');
  });
  rectOf(g, c.L, c.T, c.R - c.L, c.B - c.T, 'none', 'roc-plot-frame', {stroke: '#555', 'stroke-width': 2});
  line(g, x(0), y(0), x(1), y(1), '#9A9A9A', 2.4, 'reference-diagonal', {'stroke-dasharray': '12 5 3 5'});
  mk(g, 'polyline', {points: polyPoints(c.xs, c.ys, x, y), fill: 'none', stroke: c.color, 'stroke-width': 2.4}, 'roc-curve');
  c.auc.forEach((s, i) => tx(g, c.ax, c.ay[i], s, 22, 'middle', i ? 'confidence-interval-label' : 'auc-label'));
}
const RED = '#F00000', PURPLE = '#9A28E6';
rocPanel('panel-m', {L: 75, R: 865, T: 2278, B: 2748, x0: 110, x1: 830, y0: 2727, y1: 2300, xs: rocEmp3X, ys: rocEmp3Y, color: RED, auc: aucLinesEmp3, ax: 650, ay: [2620, 2641]});
rocPanel('panel-n', {L: 1087, R: 1881, T: 2278, B: 2749, x0: 1122, x1: 1845, y0: 2729, y1: 2300, xs: rocGngt2X, ys: rocGngt2Y, color: RED, auc: aucLinesGngt2, ax: 1664, ay: [2621, 2643]});
rocPanel('panel-o', {L: 2127, R: 2920, T: 2282, B: 2751, x0: 2162, x1: 2884, y0: 2730, y1: 2303, xs: rocSgpl1X, ys: rocSgpl1Y, color: RED, auc: aucLinesSgpl1, ax: 2704, ay: [2624, 2645]});
rocPanel('panel-p', {L: 3109, R: 3905, T: 2278, B: 2746, x0: 3144, x1: 3864, y0: 2726, y1: 2300, xs: rocEMP3X, ys: rocEMP3Y, color: PURPLE, auc: aucLinesEMP3, ax: 3684, ay: [2620, 2641]});
rocPanel('panel-q', {L: 75, R: 865, T: 2942, B: 3409, x0: 110, x1: 830, y0: 3388, y1: 2962, xs: rocGNGT2X, ys: rocGNGT2Y, color: PURPLE, auc: aucLinesGNGT2, ax: 650, ay: [3282, 3303]});
rocPanel('panel-r', {L: 1074, R: 1865, T: 2942, B: 3409, x0: 1110, x1: 1830, y0: 3388, y1: 2962, xs: rocSGPL1X, ys: rocSGPL1Y, color: PURPLE, auc: aucLinesSGPL1, ax: 1650, ay: [3282, 3303]});
</script>
</body>
</html>
